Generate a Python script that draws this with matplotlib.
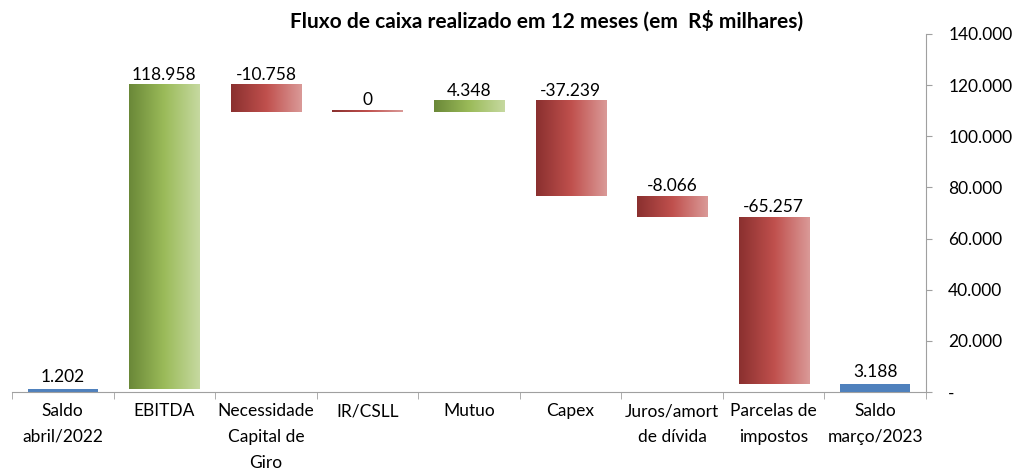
import matplotlib
matplotlib.use("Agg")
import matplotlib.pyplot as plt
import numpy as np
from matplotlib.colors import LinearSegmentedColormap
from matplotlib.ticker import FuncFormatter

plt.rcParams['font.family'] = ['Lato', 'DejaVu Sans']

# dados (R$ milhares)
categorias = ['Saldo\nabril/2022', 'EBITDA', 'Necessidade\nCapital de\nGiro', 'IR/CSLL',
              'Mutuo', 'Capex', 'Juros/amort\nde dívida', 'Parcelas de\nimpostos',
              'Saldo\nmarço/2023']
saldo_inicial = 1202
variacoes = [118958, -10758, 0, 4348, -37239, -8066, -65257]
saldo_final = 3188
y_ticks = [0, 20000, 40000, 60000, 80000, 100000, 120000, 140000]

verde = LinearSegmentedColormap.from_list('verde', ['#6A8838', '#9BBB59', '#C6D9A0'])
vermelho = LinearSegmentedColormap.from_list('vermelho', ['#8A302F', '#C0504D', '#DA9A98'])
azul = '#4F81BD'


def fmt(v):
    if v == 0:
        return '0'
    s = f'{abs(v):,.0f}'.replace(',', '.')
    return ('-' if v < 0 else '') + s


fig = plt.figure(figsize=(10.16, 4.73), dpi=100)
ax = fig.add_axes([12 / 1016, 81 / 473, 914 / 1016, 358 / 473])

largura = 0.69
grad = np.linspace(0, 1, 256).reshape(1, -1)
x = np.arange(len(categorias))

# saldo inicial
ax.bar(x[0], saldo_inicial, width=largura, color=azul)
ax.text(x[0], saldo_inicial + 1500, fmt(saldo_inicial), ha='center', va='bottom', fontsize=12.5)

acumulado = saldo_inicial
for i, v in enumerate(variacoes, start=1):
    base = acumulado if v >= 0 else acumulado + v
    topo = base + abs(v)
    altura = max(abs(v), 700)  # valor zero aparece como linha fina
    cmap = verde if v > 0 else vermelho
    b = ax.bar(x[i], altura, bottom=base, width=largura, color='none')[0]
    ax.imshow(grad, cmap=cmap, aspect='auto', interpolation='bicubic',
              extent=[b.get_x(), b.get_x() + b.get_width(), base, base + altura], zorder=2)
    ax.text(x[i], max(topo, base + altura) + 800, fmt(v), ha='center', va='bottom', fontsize=12.5)
    acumulado += v

# saldo final
ax.bar(x[-1], saldo_final, width=largura, color=azul, zorder=3)
ax.text(x[-1], saldo_final + 1500, fmt(saldo_final), ha='center', va='bottom', fontsize=12.5)

ax.set_xlim(-0.5, len(categorias) - 0.5)
ax.set_ylim(0, 140000)

ax.yaxis.tick_right()
ax.set_yticks(y_ticks)
ax.yaxis.set_major_formatter(FuncFormatter(lambda v, p: '-' if v == 0 else f'{v:,.0f}'.replace(',', '.')))
ax.tick_params(axis='y', direction='out', length=4, color='#A0A0A0', pad=12, labelsize=12.5)

ax.set_xticks(x)
ax.set_xticklabels(categorias, fontsize=12.5, linespacing=1.75)
ax.set_xticks(np.arange(-0.5, len(categorias), 1), minor=True)
ax.tick_params(axis='x', which='major', length=0, pad=8)
ax.tick_params(axis='x', which='minor', length=5, color='#A0A0A0')

for s in ['top', 'left']:
    ax.spines[s].set_visible(False)
for s in ['bottom', 'right']:
    ax.spines[s].set_color('#A0A0A0')

fig.text(547 / 1016, 1 - 21 / 473, 'Fluxo de caixa realizado em 12 meses (em  R$ milhares)',
         ha='center', va='center', fontsize=15, fontweight='bold')

fig.savefig('out.png', dpi=100)
